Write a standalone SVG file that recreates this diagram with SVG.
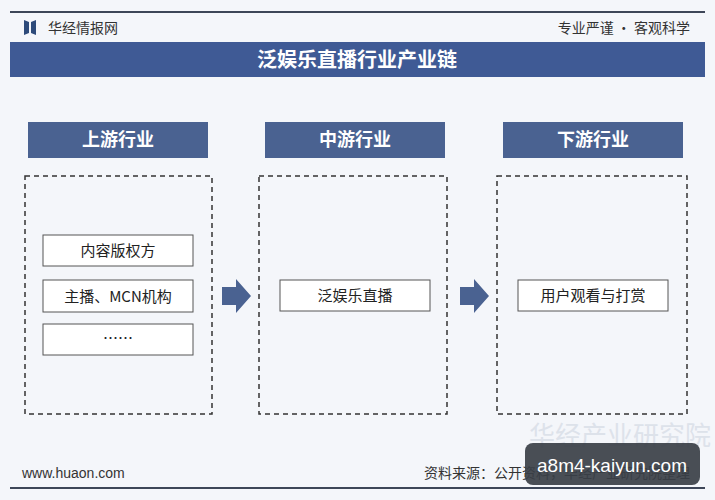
<svg xmlns="http://www.w3.org/2000/svg" width="715" height="500" viewBox="0 0 715 500">
<style>
.t{font-family:"Noto Sans CJK SC","Liberation Sans",sans-serif}
.hd{fill:#4a6291}
.dash{fill:none;stroke:#333;stroke-width:1.5;stroke-dasharray:5,4}
.item{fill:#fff;stroke:#555;stroke-width:1}
.it{font-size:15px;fill:#222;text-anchor:middle}
.ht{font-size:18px;fill:#fff;text-anchor:middle;font-weight:bold}
.arr{fill:#4a6291}
</style>
<rect width="715" height="500" fill="#f4f6fa"/>
<text class="t" x="620" y="445" font-size="26" fill="#dde2ea" text-anchor="middle">华经产业研究院</text>
<line x1="10" y1="12" x2="705" y2="12" stroke="#3d4658" stroke-width="2"/>
<path d="M24 20 L29 22 L29 33 L24 35 Z M31 22 L36 20 L36 35 L31 33 Z" fill="#2d4a7a"/>
<text class="t" x="48" y="33" font-size="14" fill="#333">华经情报网</text>
<text class="t" x="690" y="33" font-size="14" fill="#333" text-anchor="end">专业严谨 • 客观科学</text>
<rect x="10" y="42" width="695" height="35" fill="#3f5a95"/>
<text class="t" x="357" y="67" font-size="20" fill="#fff" text-anchor="middle" font-weight="bold">泛娱乐直播行业产业链</text>
<g id="upstream">
<rect class="hd" x="28" y="122" width="180" height="36"/>
<text class="t ht" x="118" y="146">上游行业</text>
<rect class="dash" x="25" y="176" width="187" height="238"/>
<rect class="item" x="43" y="235" width="150" height="31"/>
<text class="t it" x="118" y="256">内容版权方</text>
<rect class="item" x="43" y="280" width="150" height="32"/>
<text class="t it" x="118" y="302">主播、MCN机构</text>
<rect class="item" x="43" y="324" width="150" height="31"/>
<text class="t it" x="118" y="344">……</text>
</g>
<g id="midstream">
<rect class="hd" x="265" y="122" width="180" height="36"/>
<text class="t ht" x="355" y="146">中游行业</text>
<rect class="dash" x="259" y="176" width="188" height="238"/>
<rect class="item" x="280" y="280" width="150" height="31" fill="#e6e9ef"/>
<text class="t it" x="355" y="301">泛娱乐直播</text>
</g>
<g id="downstream">
<rect class="hd" x="503" y="122" width="180" height="36"/>
<text class="t ht" x="593" y="146">下游行业</text>
<rect class="dash" x="497" y="176" width="190" height="238"/>
<rect class="item" x="518" y="280" width="150" height="31"/>
<text class="t it" x="593" y="301">用户观看与打赏</text>
</g>
<g id="connectors">
<path class="arr" d="M222 287 L236 287 L236 279 L251 296 L236 313 L236 305 L222 305 Z"/>
<path class="arr" d="M460 287 L474 287 L474 279 L489 296 L474 313 L474 305 L460 305 Z"/>
</g>
<text x="22" y="478" font-family="Liberation Sans,sans-serif" font-size="14" fill="#333">www.huaon.com</text>
<text class="t" x="690" y="478" font-size="14" fill="#333" text-anchor="end">资料来源：公开资料，华经产业研究院整理</text>
<line x1="10" y1="488" x2="705" y2="488" stroke="#3d4658" stroke-width="2"/>
<rect x="525" y="443" width="175" height="42" rx="8" fill="#3a3f46" opacity="0.92"/>
<text x="612" y="472" font-family="Liberation Sans,sans-serif" font-size="19" fill="#fff" text-anchor="middle">a8m4-kaiyun.com</text>
</svg>
